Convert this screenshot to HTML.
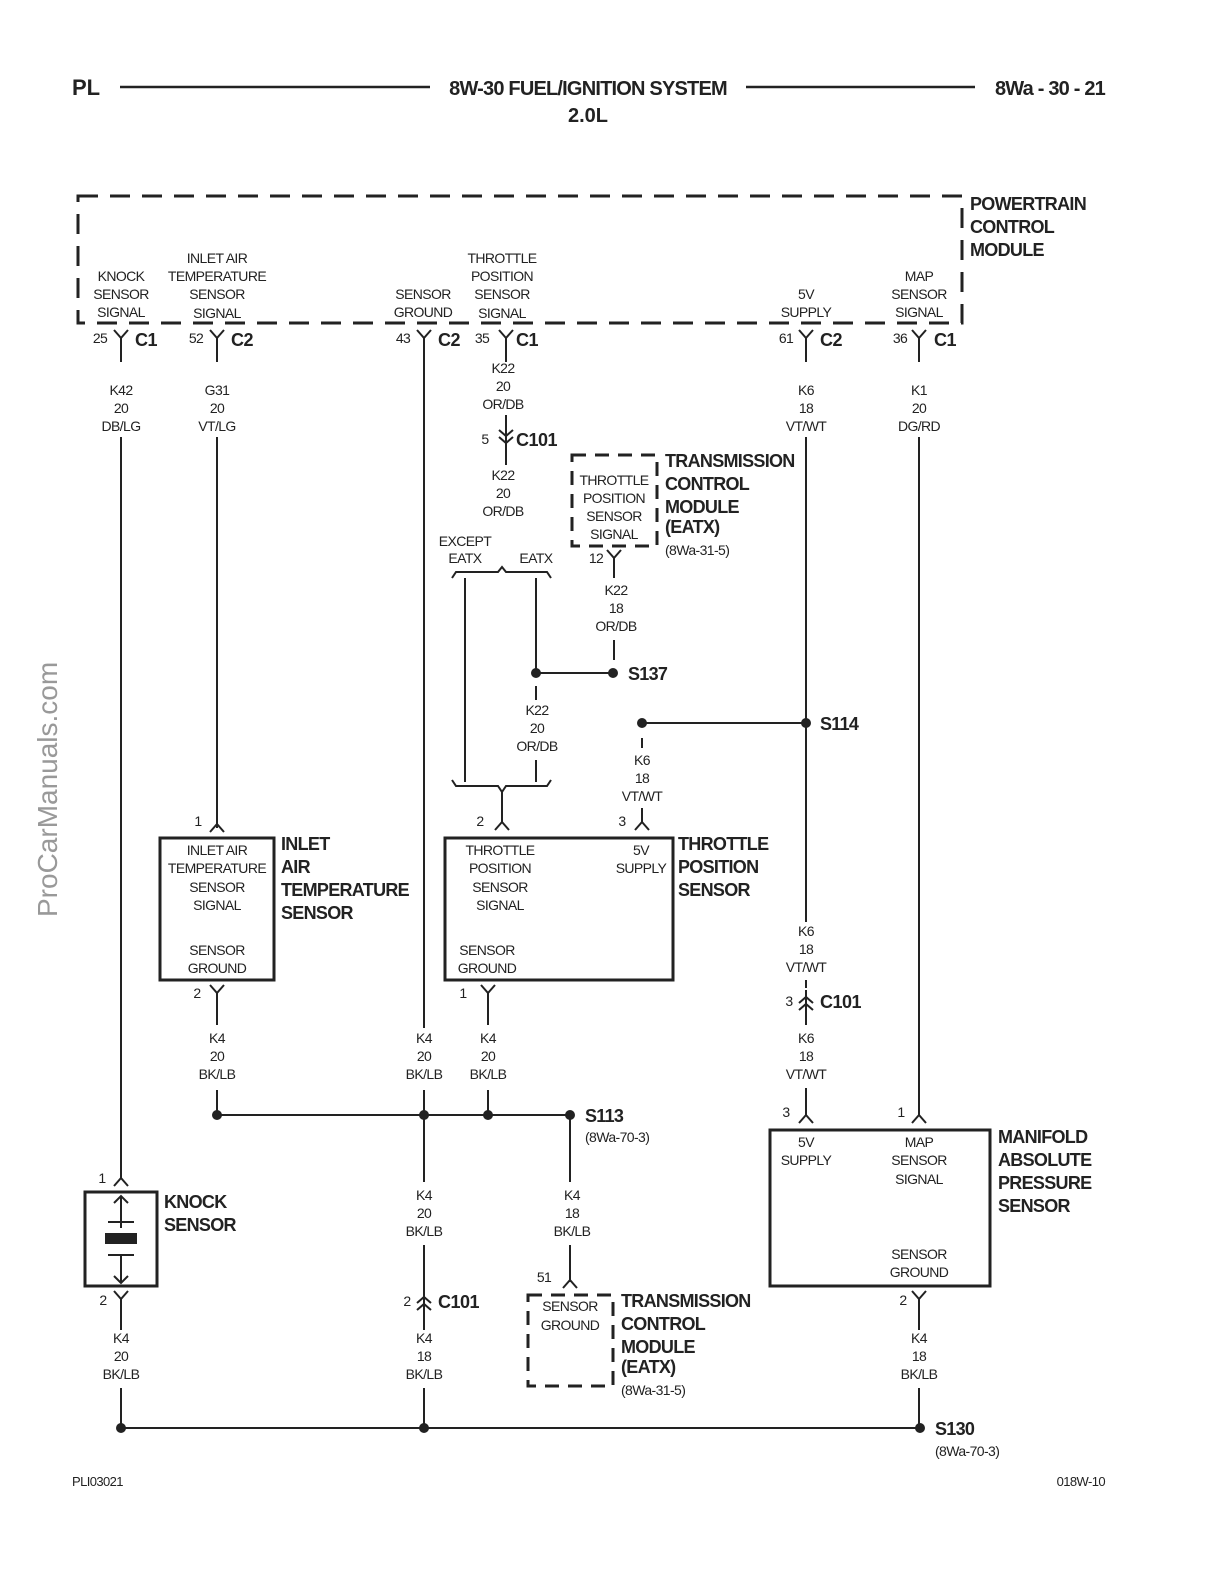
<!DOCTYPE html>
<html><head><meta charset="utf-8"><style>
html,body{margin:0;padding:0;background:#fff;overflow:hidden}
svg{display:block}
text{font-family:"Liberation Sans",sans-serif;fill:#222}
.t{font-size:14px;text-anchor:middle;letter-spacing:-0.6px}
.tl{font-size:14px;letter-spacing:-0.6px}
.b{font-size:18px;font-weight:bold;letter-spacing:-0.7px}
.bc{font-size:18px;font-weight:bold;letter-spacing:-0.5px}
.w{stroke:#222;stroke-width:2;fill:none}
</style></head><body>
<svg width="1224" height="1584" viewBox="0 0 1224 1584" xmlns="http://www.w3.org/2000/svg">
<defs>
<path id="Y" d="M-7,-8 L0,0 L7,-8 M0,0 L0,8" stroke="#222" stroke-width="2" fill="none"/>
<path id="A" d="M-7,8 L0,0 L7,8 M0,0 L0,-8" stroke="#222" stroke-width="2" fill="none"/>
<path id="DD" d="M-7,-10 L0,-4 L7,-10 M-7,-3 L0,3 L7,-3 M0,-12 L0,10" stroke="#222" stroke-width="2" fill="none"/>
<path id="DU" d="M-7,10 L0,4 L7,10 M-7,3 L0,-3 L7,3 M0,-10 L0,12" stroke="#222" stroke-width="2" fill="none"/>
</defs>
<!-- header -->
<text x="72" y="95" style="font-size:22px;font-weight:bold">PL</text>
<line x1="120" y1="87" x2="430" y2="87" stroke="#222" stroke-width="2.5"/>
<text x="588" y="95" style="font-size:20px;font-weight:bold;text-anchor:middle;letter-spacing:-0.8px">8W-30 FUEL/IGNITION SYSTEM</text>
<line x1="746" y1="87" x2="975" y2="87" stroke="#222" stroke-width="2.5"/>
<text x="1105" y="95" style="font-size:20px;font-weight:bold;text-anchor:end;letter-spacing:-0.8px">8Wa - 30 - 21</text>
<text x="588" y="122" style="font-size:20px;font-weight:bold;text-anchor:middle">2.0L</text>

<!-- PCM -->
<rect x="78" y="196" width="884" height="127" fill="none" stroke="#222" stroke-width="3" stroke-dasharray="20,12"/>
<text x="970" y="210" class="b">POWERTRAIN</text>
<text x="970" y="233" class="b">CONTROL</text>
<text x="970" y="256" class="b">MODULE</text>
<text x="121" y="281" class="t">KNOCK</text><text x="121" y="299" class="t">SENSOR</text><text x="121" y="317" class="t">SIGNAL</text>
<text x="217" y="263" class="t">INLET AIR</text><text x="217" y="281" class="t">TEMPERATURE</text><text x="217" y="299" class="t">SENSOR</text><text x="217" y="318" class="t">SIGNAL</text>
<text x="423" y="299" class="t">SENSOR</text><text x="423" y="317" class="t">GROUND</text>
<text x="502" y="263" class="t">THROTTLE</text><text x="502" y="281" class="t">POSITION</text><text x="502" y="299" class="t">SENSOR</text><text x="502" y="318" class="t">SIGNAL</text>
<text x="806" y="299" class="t">5V</text><text x="806" y="317" class="t">SUPPLY</text>
<text x="919" y="281" class="t">MAP</text><text x="919" y="299" class="t">SENSOR</text><text x="919" y="317" class="t">SIGNAL</text>
<!-- top connectors -->
<use href="#Y" x="121" y="338"/><text x="100" y="343" class="t">25</text><text x="135" y="346" class="bc">C1</text>
<use href="#Y" x="217" y="338"/><text x="196" y="343" class="t">52</text><text x="231" y="346" class="bc">C2</text>
<use href="#Y" x="424" y="338"/><text x="403" y="343" class="t">43</text><text x="438" y="346" class="bc">C2</text>
<use href="#Y" x="506" y="338"/><text x="482" y="343" class="t">35</text><text x="516" y="346" class="bc">C1</text>
<use href="#Y" x="806" y="338"/><text x="786" y="343" class="t">61</text><text x="820" y="346" class="bc">C2</text>
<use href="#Y" x="919" y="338"/><text x="900" y="343" class="t">36</text><text x="934" y="346" class="bc">C1</text>

<!-- knock wire -->
<path class="w" d="M121,346 V362 M121,437 V1178"/>
<text x="121" y="395" class="t">K42</text><text x="121" y="413" class="t">20</text><text x="121" y="431" class="t">DB/LG</text>
<use href="#A" x="121" y="1178"/><text x="102" y="1183" class="t">1</text>
<rect x="85" y="1192" width="72" height="94" fill="none" stroke="#222" stroke-width="3"/>
<path class="w" d="M121,1228 V1196 M114,1203 L121,1196 L128,1203 M108,1222 H134 M108,1255 H134 M121,1255 V1283 M114,1276 L121,1283 L128,1276"/>
<rect x="105" y="1233" width="32" height="11" fill="#222"/>
<text x="164" y="1208" class="b">KNOCK</text><text x="164" y="1231" class="b">SENSOR</text>
<use href="#Y" x="121" y="1299"/><text x="103" y="1305" class="t">2</text>
<path class="w" d="M121,1307 V1330 M121,1388 V1428"/>
<text x="121" y="1343" class="t">K4</text><text x="121" y="1361" class="t">20</text><text x="121" y="1379" class="t">BK/LB</text>

<!-- bottom ground -->
<path class="w" d="M121,1428 H920"/>
<circle cx="121" cy="1428" r="5" fill="#222"/><circle cx="424" cy="1428" r="5" fill="#222"/><circle cx="920" cy="1428" r="5" fill="#222"/>
<text x="935" y="1435" class="b">S130</text><text x="935" y="1456" class="tl">(8Wa-70-3)</text>

<!-- inlet air -->
<path class="w" d="M217,346 V362 M217,437 V828"/>
<text x="217" y="395" class="t">G31</text><text x="217" y="413" class="t">20</text><text x="217" y="431" class="t">VT/LG</text>
<use href="#A" x="217" y="824"/><text x="198" y="826" class="t">1</text>
<rect x="160" y="838" width="114" height="142" fill="none" stroke="#222" stroke-width="3"/>
<text x="217" y="855" class="t">INLET AIR</text><text x="217" y="873" class="t">TEMPERATURE</text><text x="217" y="892" class="t">SENSOR</text><text x="217" y="910" class="t">SIGNAL</text>
<text x="217" y="955" class="t">SENSOR</text><text x="217" y="973" class="t">GROUND</text>
<text x="281" y="850" class="b">INLET</text><text x="281" y="873" class="b">AIR</text><text x="281" y="896" class="b">TEMPERATURE</text><text x="281" y="919" class="b">SENSOR</text>
<use href="#Y" x="217" y="993"/><text x="197" y="998" class="t">2</text>
<path class="w" d="M217,1001 V1025 M217,1090 V1115"/>
<text x="217" y="1043" class="t">K4</text><text x="217" y="1061" class="t">20</text><text x="217" y="1079" class="t">BK/LB</text>

<!-- S113 line -->
<path class="w" d="M217,1115 H570"/>
<circle cx="217" cy="1115" r="5" fill="#222"/><circle cx="424" cy="1115" r="5" fill="#222"/><circle cx="488" cy="1115" r="5" fill="#222"/><circle cx="570" cy="1115" r="5" fill="#222"/>
<text x="585" y="1122" class="b">S113</text><text x="585" y="1142" class="tl">(8Wa-70-3)</text>

<!-- sensor ground wire -->
<path class="w" d="M424,346 V1028 M424,1090 V1182 M424,1245 V1290 M424,1312 V1330 M424,1388 V1428"/>
<text x="424" y="1043" class="t">K4</text><text x="424" y="1061" class="t">20</text><text x="424" y="1079" class="t">BK/LB</text>
<text x="424" y="1200" class="t">K4</text><text x="424" y="1218" class="t">20</text><text x="424" y="1236" class="t">BK/LB</text>
<use href="#DU" x="424" y="1300"/><text x="407" y="1306" class="t">2</text><text x="438" y="1308" class="bc">C101</text>
<text x="424" y="1343" class="t">K4</text><text x="424" y="1361" class="t">18</text><text x="424" y="1379" class="t">BK/LB</text>

<!-- throttle signal -->
<path class="w" d="M506,346 V362 M506,415 V448 M506,448 V465"/>
<text x="503" y="373" class="t">K22</text><text x="503" y="391" class="t">20</text><text x="503" y="409" class="t">OR/DB</text>
<use href="#DD" x="506" y="440"/><text x="485" y="444" class="t">5</text><text x="516" y="446" class="bc">C101</text>
<text x="503" y="480" class="t">K22</text><text x="503" y="498" class="t">20</text><text x="503" y="516" class="t">OR/DB</text>
<text x="465" y="546" class="t">EXCEPT</text><text x="465" y="563" class="t">EATX</text><text x="536" y="563" class="t">EATX</text>
<path class="w" d="M452,578 L456,572 H498 L502,567 L506,572 H547 L551,578"/>
<path class="w" d="M465,578 V782 M536,578 V673 M536,673 H613 M536,686 V700 M536,760 V782"/>
<circle cx="536" cy="673" r="5" fill="#222"/><circle cx="613" cy="673" r="5" fill="#222"/>
<text x="628" y="680" class="b">S137</text>
<text x="537" y="715" class="t">K22</text><text x="537" y="733" class="t">20</text><text x="537" y="751" class="t">OR/DB</text>
<path class="w" d="M452,780 L456,786 H498 L502,792 L506,786 H547 L551,780 M502,792 V822"/>
<use href="#A" x="502" y="822"/><text x="480" y="826" class="t">2</text>

<!-- TCM top -->
<rect x="572" y="455" width="85" height="91" fill="none" stroke="#222" stroke-width="3" stroke-dasharray="14,9"/>
<text x="614" y="485" class="t">THROTTLE</text><text x="614" y="503" class="t">POSITION</text><text x="614" y="521" class="t">SENSOR</text><text x="614" y="539" class="t">SIGNAL</text>
<text x="665" y="467" class="b">TRANSMISSION</text><text x="665" y="490" class="b">CONTROL</text><text x="665" y="513" class="b">MODULE</text><text x="665" y="533" class="b">(EATX)</text>
<text x="665" y="555" class="tl">(8Wa-31-5)</text>
<use href="#Y" x="614" y="558"/><text x="596" y="563" class="t">12</text>
<path class="w" d="M614,566 V578 M614,640 V660"/>
<text x="616" y="595" class="t">K22</text><text x="616" y="613" class="t">18</text><text x="616" y="631" class="t">OR/DB</text>

<!-- throttle sensor box -->
<rect x="445" y="838" width="228" height="142" fill="none" stroke="#222" stroke-width="3"/>
<text x="500" y="855" class="t">THROTTLE</text><text x="500" y="873" class="t">POSITION</text><text x="500" y="892" class="t">SENSOR</text><text x="500" y="910" class="t">SIGNAL</text>
<text x="641" y="855" class="t">5V</text><text x="641" y="873" class="t">SUPPLY</text>
<text x="487" y="955" class="t">SENSOR</text><text x="487" y="973" class="t">GROUND</text>
<text x="678" y="850" class="b">THROTTLE</text><text x="678" y="873" class="b">POSITION</text><text x="678" y="896" class="b">SENSOR</text>
<use href="#A" x="642" y="822"/><text x="622" y="826" class="t">3</text>
<use href="#Y" x="488" y="993"/><text x="463" y="998" class="t">1</text>
<path class="w" d="M488,1001 V1025 M488,1090 V1115"/>
<text x="488" y="1043" class="t">K4</text><text x="488" y="1061" class="t">20</text><text x="488" y="1079" class="t">BK/LB</text>
<path class="w" d="M642,723 H806 M642,738 V748 M642,808 V822"/>
<circle cx="642" cy="723" r="5" fill="#222"/><circle cx="806" cy="723" r="5" fill="#222"/>
<text x="820" y="730" class="b">S114</text>
<text x="642" y="765" class="t">K6</text><text x="642" y="783" class="t">18</text><text x="642" y="801" class="t">VT/WT</text>

<!-- 5V wire -->
<path class="w" d="M806,346 V362 M806,437 V922 M806,980 V988 M806,1012 V1025 M806,1088 V1115"/>
<text x="806" y="395" class="t">K6</text><text x="806" y="413" class="t">18</text><text x="806" y="431" class="t">VT/WT</text>
<text x="806" y="936" class="t">K6</text><text x="806" y="954" class="t">18</text><text x="806" y="972" class="t">VT/WT</text>
<use href="#DU" x="806" y="1000"/><text x="789" y="1006" class="t">3</text><text x="820" y="1008" class="bc">C101</text>
<text x="806" y="1043" class="t">K6</text><text x="806" y="1061" class="t">18</text><text x="806" y="1079" class="t">VT/WT</text>
<use href="#A" x="806" y="1115"/><text x="786" y="1117" class="t">3</text>

<!-- MAP -->
<path class="w" d="M919,346 V362 M919,437 V1115"/>
<text x="919" y="395" class="t">K1</text><text x="919" y="413" class="t">20</text><text x="919" y="431" class="t">DG/RD</text>
<use href="#A" x="919" y="1115"/><text x="901" y="1117" class="t">1</text>
<rect x="770" y="1130" width="220" height="156" fill="none" stroke="#222" stroke-width="3"/>
<text x="806" y="1147" class="t">5V</text><text x="806" y="1165" class="t">SUPPLY</text>
<text x="919" y="1147" class="t">MAP</text><text x="919" y="1165" class="t">SENSOR</text><text x="919" y="1184" class="t">SIGNAL</text>
<text x="919" y="1259" class="t">SENSOR</text><text x="919" y="1277" class="t">GROUND</text>
<text x="998" y="1143" class="b">MANIFOLD</text><text x="998" y="1166" class="b">ABSOLUTE</text><text x="998" y="1189" class="b">PRESSURE</text><text x="998" y="1212" class="b">SENSOR</text>
<use href="#Y" x="919" y="1299"/><text x="903" y="1305" class="t">2</text>
<path class="w" d="M919,1307 V1330 M919,1388 V1428"/>
<text x="919" y="1343" class="t">K4</text><text x="919" y="1361" class="t">18</text><text x="919" y="1379" class="t">BK/LB</text>

<!-- TCM bottom -->
<path class="w" d="M570,1115 V1182 M570,1245 V1282"/>
<text x="572" y="1200" class="t">K4</text><text x="572" y="1218" class="t">18</text><text x="572" y="1236" class="t">BK/LB</text>
<use href="#A" x="570" y="1280"/><text x="544" y="1282" class="t">51</text>
<rect x="528" y="1295" width="85" height="91" fill="none" stroke="#222" stroke-width="3" stroke-dasharray="14,9"/>
<text x="570" y="1311" class="t">SENSOR</text><text x="570" y="1330" class="t">GROUND</text>
<text x="621" y="1307" class="b">TRANSMISSION</text><text x="621" y="1330" class="b">CONTROL</text><text x="621" y="1353" class="b">MODULE</text><text x="621" y="1373" class="b">(EATX)</text>
<text x="621" y="1395" class="tl">(8Wa-31-5)</text>

<!-- footer -->
<text x="72" y="1486" class="tl" style="font-size:13px">PLI03021</text>
<text x="1105" y="1486" class="tl" style="font-size:13px;text-anchor:end">018W-10</text>
<text transform="translate(57,917) rotate(-90)" style="font-size:28px;fill:#999">ProCarManuals.com</text>
</svg>
</body></html>
